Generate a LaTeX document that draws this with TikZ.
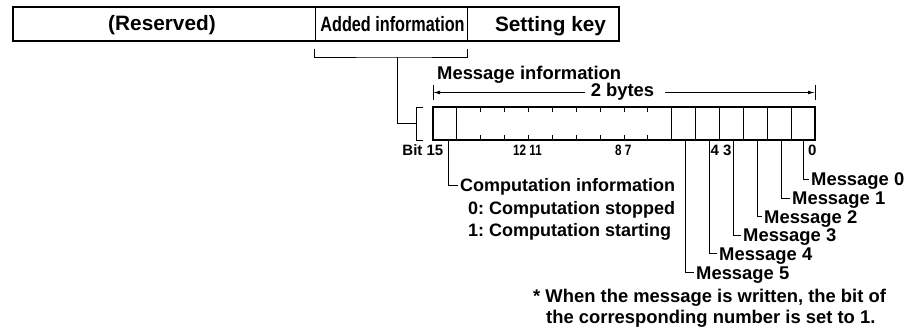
\documentclass[tikz,border=0pt]{standalone}
\usepackage{fontspec}
\setmainfont{Liberation Sans}
\newfontfamily\narrowf{Liberation Sans}[FakeStretch=0.78]
\usetikzlibrary{arrows.meta}
\frenchspacing
\begin{document}
\frenchspacing
\begin{tikzpicture}[x=1pt,y=-1pt,
  txt/.style={inner sep=0pt, anchor=base west, font=\frenchspacing\bfseries\fontsize{18.4}{22}\selectfont},
  bigtxt/.style={inner sep=0pt, anchor=base, font=\bfseries\fontsize{20.8}{24}\selectfont},
  numtxt/.style={inner sep=0pt, anchor=base west, font=\bfseries\fontsize{15}{18}\selectfont},
  nnum/.style={inner sep=0pt, anchor=base west, font=\narrowf\bfseries\fontsize{15}{18}\selectfont},
  lead/.style={line width=0.9pt},
  frame/.style={line width=1.5pt},
  thin/.style={line width=0.9pt},
  tip/.style={-{Latex[length=7pt,width=3.6pt]}, line width=0.8pt}
]
\useasboundingbox (0,0) rectangle (913,331);

% top field
\draw[frame] (13,7) rectangle (619,41);
\draw[thin] (315,7) -- (315,41);
\draw[thin] (467,7) -- (467,41);
\node[bigtxt] (res) at (162,31) {(Reserved)};
\node[bigtxt, font=\narrowf\bfseries\fontsize{20.8}{24}\selectfont] (add) at (392.5,32) {Added information};
\node[bigtxt] (set) at (550.5,31.5) {Setting key};

% bracket under added information
\coordinate (ab1) at (314,49);
\coordinate (ab2) at (467,49);
\coordinate (abm) at (397,57);
\draw[lead] (ab1) |- (abm) -| (ab2);
\coordinate (regbr) at (416,123);
\draw[lead] (abm) |- (regbr);
\draw[lead] (423,107) -- (416,107) -- (416,140) -- (423,140);

% message information header
\node[txt] (mi) at (437,80) {Message information};
\node[txt, anchor=base] (bytes) at (622.5,97) {2 bytes};
\coordinate (bl) at (433,92.5);
\coordinate (br) at (815,92.5);
\draw[thin] (433,85) -- (433,100);
\draw[thin] (815,85) -- (815,100);
\draw[tip] (585,92.5) -- (bl);
\draw[tip] (665,92.5) -- (br);

% register
\draw[line width=1.2pt] (433,107) rectangle (815,140);
\draw[line width=1.8pt] (433,106.4) -- (433,140.6);
\foreach \i in {1,10,11,12,13,14,15}{
  \draw[thin] ({433+\i*23.875},107) -- ({433+\i*23.875},140);
}
\foreach \i in {2,...,9}{
  \draw[thin] ({433+\i*23.875},107) -- ({433+\i*23.875},112);
  \draw[thin] ({433+\i*23.875},140) -- ({433+\i*23.875},135);
}

% bit numbers
\node[numtxt, anchor=base east] (b15) at (443.5,155.5) {Bit 15};
\node[nnum] (b1211) at (513,155.5) {12 11};
\node[nnum] (b87) at (615,155.5) {8 7};
\node[numtxt] (b43) at (710.5,155.5) {4 3};
\node[numtxt] (b0) at (808,155.5) {0};

% computation information
\node[txt, font=\frenchspacing\bfseries\fontsize{18}{22}\selectfont] (ci) at (460,192) {Computation information};
\node[txt, font=\frenchspacing\bfseries\fontsize{18}{22}\selectfont] (c0) at (468,214.5) {0: Computation stopped};
\node[txt, font=\frenchspacing\bfseries\fontsize{18}{22}\selectfont] (c1) at (468,236.5) {1: Computation starting};
\draw[lead] (448,140) |- ([xshift=-2pt,yshift=6.5pt]ci.base west);

% messages
\node[txt] (m0) at (811,186) {Message 0};
\node[txt] (m1) at (792,204.6) {Message 1};
\node[txt] (m2) at (764,223.2) {Message 2};
\node[txt] (m3) at (743,241.8) {Message 3};
\node[txt] (m4) at (719,260.4) {Message 4};
\node[txt] (m5) at (696,279) {Message 5};
\draw[lead] (803,140) |- ([xshift=-2pt,yshift=6.6pt]m0.base west);
\draw[lead] (781,140) |- ([xshift=-2pt,yshift=6.6pt]m1.base west);
\draw[lead] (757,140) |- ([xshift=-2pt,yshift=6.6pt]m2.base west);
\draw[lead] (733,140) |- ([xshift=-2pt,yshift=6.6pt]m3.base west);
\draw[lead] (709.5,140) |- ([xshift=-2pt,yshift=6.6pt]m4.base west);
\draw[lead] (685,140) |- ([xshift=-2pt,yshift=6.6pt]m5.base west);

% footnote
\node[txt] (fn1) at (533,302) {* When the message is written, the bit of};
\node[txt] (fn2) at (546,323) {the corresponding number is set to 1.};
\end{tikzpicture}
\end{document}
